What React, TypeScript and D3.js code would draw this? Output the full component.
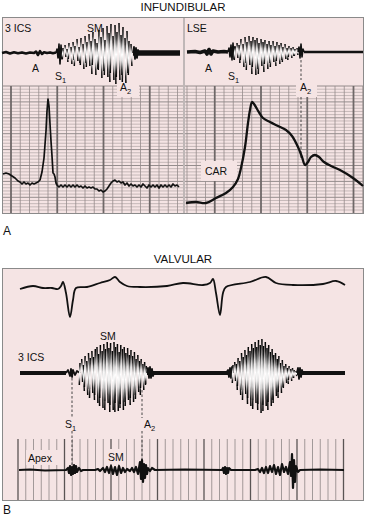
import React from 'react';
import * as d3 from 'd3';

type P = [number, number];
type S = [number, number]; // spike: [upward amplitude, downward amplitude]

// ---------- Panel A (infundibular) ----------
// 3 ICS phonocardiogram: time units, amplitude units (+ up)
const icsPre: P[] = [[2,0],[6,1],[10,-0.5],[14,0.8],[18,-0.3],[22,0.6],[26,-0.4],[30,0.5],[34,0],[36,1.5],[38,-2],[40,1.8],[42,-1],[44,0.8],[47,0],[50,0.6],[53,-0.3],[56,0.4]];
const icsS1: P[] = [[56,0],[57,4],[58,-5],[59,9],[60,-11],[61,8],[62,-6],[63,3]];
const icsMurmurStart = 63;
const icsMurmurStep = 2;
const icsMurmur: S[] = [[5,6],[8,4],[4,9],[10,6],[6,11],[11,7],[7,13],[14,8],[6,10],[15,12],
  [9,16],[17,10],[11,14],[19,13],[12,21],[21,12],[14,22],[10,16],[23,17],[16,25],
  [25,18],[13,22],[27,24],[20,29],[29,20],[17,27],[28,31],[21,24],[30,27],[18,22],
  [26,29],[15,30],[22,20],[12,22],[9,13]];
const icsPostStart: P[] = [[133,0],[134,6],[135,-6],[136,5],[137,-5],[138,3],[139,0]];
const icsPost: P[] = [[133,0],[180,0]];

// LSE phonocardiogram
const lsePre: P[] = [[187,0],[195,0.5],[200,-0.5],[205,1],[207,-2],[209,2.5],[211,-2],[213,1],[218,0],[224,0.5],[228,0]];
const lseS1: P[] = [[228,0],[229,4],[230,-5],[231,7],[232,-8],[233,9],[234,-7],[235,5]];
const lseMurmurStart = 235;
const lseMurmurStep = 2;
const lseMurmur: S[] = [[6,8],[9,6],[7,11],[13,8],[8,15],[15,11],[10,18],[16,13],[11,22],[15,15],
  [12,23],[14,17],[9,22],[13,14],[10,20],[12,12],[8,17],[11,11],[7,15],[11,10],
  [6,14],[10,9],[7,12],[9,8],[5,10],[8,7],[4,8],[6,5],[4,6],[5,4],[3,4],[4,3]];
const lseA2: P[] = [[298,0],[299,5],[300,-6],[301,8],[302,-5],[303,3],[304,0]];
const lsePost: P[] = [[304,0],[363,0]];

// pressure trace (left lower)
const pressure: P[] = [[3,12],[6,13],[9,12],[12,10],[15,8],[18,5],[20,4],[22,2],[24,4],[26,2],[28,3],[30,1],[32,3],[34,2],[36,3],[38,4],[40,6],[42,14],[44,28],[46,55],[47,75],[48,87],[49,80],[50,62],[51,45],[52,30],[53,13],[54,12],[55,9],[56,3],[57,1],[59,-1],[61,1],[63,-1],[65,1],[67,-1],[69,1],[71,-1],[73,1],[75,-1],[77,1],[79,-1],[81,0],[83,-2],[85,0],[87,-2],[89,-1],[91,-2],[93,-1],[95,-3],[97,-3],[99,-5],[101,-4],[103,-6],[105,-5],[107,-3],[109,0],[111,3],[113,5],[115,6],[117,4],[119,5],[121,3],[123,4],[125,1],[127,3],[129,0],[131,2],[133,0],[135,1],[137,-1],[139,1],[141,-1],[143,2],[145,0],[147,-2],[149,1],[151,-1],[153,1],[155,-1],[157,1],[159,-2],[161,1],[163,-1],[165,1],[167,-1],[169,1],[171,-1],[173,2],[175,0],[177,1],[179,-1]];

// carotid pulse (CAR)
const carotid: P[] = [[186,0],[196,1],[206,0],[216,5],[226,10],[233,16],[238,24],[241,35],[245,56],[248,80],[250,93],[252,101],[254,99],[257,94],[263,85],[270,81],[278,77],[286,73],[292,67],[298,56],[302,46],[305,38],[308,41],[311,46],[315,48],[319,46],[324,41],[331,37],[340,33],[353,25],[363,17]];

// ---------- Panel B (valvular) ----------
const ecg: P[] = [[20,-2],[33,1],[43,-1],[52,-1],[58,-2],[61,1],[63,5],[66,-6],[70,-30],[73,-13],[76,-1],[87,0],[100,4],[110,7],[115,10],[120,5],[127,1],[140,0],[167,1],[183,4],[203,2],[210,4],[213,8],[216,-6],[220,-28],[223,-6],[226,0],[250,5],[266,10],[276,4],[293,2],[323,3],[336,6],[345,2]];

const bPre: P[] = [[20,0],[66,0]];
const bS1: P[] = [[66,0],[68,3],[70,-3],[71,4],[72,-4],[73,3],[75,-2],[77,2],[80,0]];
const bMurmur1Start = 80;
const bMurmurStep = 1.7;
const bMurmur1: S[] = [[10,12],[14,9],[8,18],[17,14],[12,22],[20,16],[15,25],[22,20],[16,27],[24,22],
  [26,30],[19,33],[28,25],[22,35],[29,28],[24,37],[31,30],[25,39],[30,32],[22,37],
  [31,39],[26,30],[29,38],[21,35],[28,31],[24,37],[26,29],[20,33],[25,27],[18,32],
  [23,25],[17,29],[21,22],[14,26],[18,19],[12,22],[14,15],[9,17],[11,12],[7,11]];
const bMid: P[] = [[147,0],[233,0]];
const bMidStart: P[] = [[147,0],[148,5],[149,-5],[150,6],[151,-5],[152,4],[153,-3],[154,0]];
const bMidEnd: P[] = [[226,0],[228,3],[229,-4],[230,5],[231,-5],[232,6],[233,0]];
const bMurmur2Start = 233;
const bMurmur2: S[] = [[8,10],[11,8],[9,17],[15,13],[12,22],[20,17],[16,27],[23,21],[18,31],[26,25],
  [22,33],[29,27],[25,36],[31,30],[26,37],[33,31],[28,40],[34,32],[27,38],[31,33],
  [25,37],[28,29],[21,33],[24,27],[18,30],[20,23],[14,25],[17,19],[10,20],[13,14],
  [7,15],[9,10],[5,11],[7,7],[4,8],[5,5],[3,5],[2,3]];
const bPostStart: P[] = [[297,0],[298,5],[299,-6],[300,5],[301,-4],[302,3],[303,0]];
const bPost: P[] = [[297,0],[345,0]];

const apex: P[] = [[19,0],[30,0.5],[45,-0.5],[66,0],[68,2],[69,-3],[70,4],[71,-5],[72,3],[73,-4],[74,5],[75,-3],[76,4],[77,-2],[79,2],[81,-1],[83,0],[95,0],[98,1],[100,-1],[103,2],[105,-2],[107,3],[109,-3],[111,4],[113,-4],[115,3],[117,-5],[119,4],[121,-3],[123,2],[125,-2],[127,1],[130,-1],[132,2],[134,-2],[136,3],[138,-4],[140,8],[141,-9],[142,10],[143,-12],[144,6],[145,-8],[146,5],[147,-4],[148,2],[150,-1],[152,2],[155,0],[185,0.5],[222,0],[223,2],[224,-3],[225,3],[226,-4],[227,2],[228,-3],[229,2],[231,0],[255,0],[258,1],[260,-2],[262,2],[264,-3],[266,3],[268,-3],[270,4],[272,-2],[274,5],[276,-4],[278,3],[280,-5],[282,6],[284,-2],[286,3],[288,-4],[290,8],[291,-6],[292,16],[293,-18],[294,10],[295,-12],[296,4],[298,-2],[300,0],[320,0.5],[344,0]];

// event markers (time units)
const lseA2Time = 301;
const bS1Time = 72;
const bA2Time = 142;

// ---------- helpers ----------
const PINK = '#f5e4e4';
const FONT = "'Liberation Sans', Arial, Helvetica, sans-serif";

const x = d3.scaleLinear().domain([0, 366]).range([0, 366]);
const yAt = (base: number) => d3.scaleLinear().domain([-100, 100]).range([base + 100, base - 100]);

function path(points: P[], y: d3.ScaleLinear<number, number>, curve: d3.CurveFactory = d3.curveLinear) {
  return d3.line<P>().x(d => x(d[0])).y(d => y(d[1])).curve(curve)(points) || '';
}

function Trace({ pts, y, w = 2, curve, stroke = '#111' }: { pts: P[]; y: any; w?: number; curve?: d3.CurveFactory; stroke?: string }) {
  return <path d={path(pts, y, curve)} fill="none" stroke={stroke} strokeWidth={w} strokeLinejoin="round" />;
}

function Murmur({ start, step, spikes, y, w, glow }: { start: number; step: number; spikes: S[]; y: any; w: number; glow?: number }) {
  const t = (i: number) => start + i * step;
  const tEnd = t(spikes.length - 1);
  const maxUp = d3.max(spikes, s => s[0]) || 0;
  const maxDn = d3.max(spikes, s => s[1]) || 0;
  const peakI = d3.maxIndex(spikes, s => s[0] + s[1]);
  return (
    <g>
      {glow ? (
        <ellipse cx={x((t(peakI) + (start + tEnd) / 2) / 2)} cy={y(0)} rx={(x(tEnd) - x(start)) * 0.38}
          ry={(y(-maxDn) - y(maxUp)) * 0.36} fill="url(#glow)" opacity={glow} />
      ) : null}
      {spikes.map((s, i) => (
        <line key={i} x1={x(t(i))} x2={x(t(i)) + (i % 3 === 0 ? -0.7 : 0.9)} y1={y(s[0])} y2={y(-s[1])}
          stroke="url(#spk)" strokeWidth={w} strokeLinecap="butt" />
      ))}
    </g>
  );
}

function Grid({ x0, x1, y0, y1, vStart, vStep, majorMod, majorOff }: any) {
  const hs = d3.range(y0, y1, 3.18);
  return (
    <g>
      {hs.map((h, i) => (
        <line key={'h' + i} x1={x0} x2={x1} y1={h} y2={h} stroke={i % 5 === 0 ? '#8a8282' : '#a59b9b'} strokeWidth={i % 5 === 0 ? 0.9 : 0.6} />
      ))}
      {d3.range(vStart, x1, vStep).map((v, i) => (v >= x0 ?
        <line key={'v' + i} x1={v} x2={v} y1={y0} y2={y1} stroke={i % majorMod === majorOff ? '#6f6868' : '#958c8c'} strokeWidth={i % majorMod === majorOff ? 1.8 : 0.8} /> : null
      ))}
    </g>
  );
}

function Sub({ xx, yy, main, sub, size = 10.5 }: any) {
  return (
    <text x={xx} y={yy} fontSize={size} fill="#111">
      {main}
      <tspan fontSize={size * 0.72} dy={3}>{sub}</tspan>
    </text>
  );
}

export default function App() {
  const yIcs = yAt(53);
  const yLse = yAt(52);
  const yPress = yAt(186);
  const yCar = yAt(203);
  const yEcg = yAt(287);
  const yPhono = yAt(373);
  const yApex = yAt(470);

  const bGridXs = d3.range(18, 346, 7.75);

  return (
    <svg width={366} height={526} style={{ position: 'absolute', left: 0, top: 0, background: '#fff' }} fontFamily={FONT}>
      <defs>
        <linearGradient id="spk" x1="0" y1="0" x2="0" y2="1">
          <stop offset="0" stopColor="#000" />
          <stop offset="0.14" stopColor="#222" />
          <stop offset="0.36" stopColor="#d8d8d8" />
          <stop offset="0.5" stopColor="#fff" />
          <stop offset="0.64" stopColor="#d8d8d8" />
          <stop offset="0.86" stopColor="#222" />
          <stop offset="1" stopColor="#000" />
        </linearGradient>
        <radialGradient id="glow" cx="0.5" cy="0.5" r="0.5">
          <stop offset="0" stopColor="#fff" stopOpacity="1" />
          <stop offset="0.6" stopColor="#fff" stopOpacity="0.6" />
          <stop offset="1" stopColor="#fff" stopOpacity="0" />
        </radialGradient>
      </defs>

      {/* Panel A */}
      <text x={183} y={11} fontSize={11.5} textAnchor="middle" fill="#111">INFUNDIBULAR</text>
      <rect x={2.5} y={17.5} width={361} height={196} fill={PINK} stroke="#8a8a8a" strokeWidth={1} />
      <line x1={184} x2={184} y1={17.5} y2={213.5} stroke="#8a8a8a" strokeWidth={1} />
      <Grid x0={3} x1={183} y0={86} y1={213} vStart={1.75} vStep={9.25} majorMod={5} majorOff={1} />
      <Grid x0={185} x1={363} y0={86} y1={213} vStart={187} vStep={9.25} majorMod={5} majorOff={3} />

      {/* label boxes on grid */}
      <rect x={117} y={80} width={22} height={17} fill={PINK} />
      <rect x={296} y={80} width={21} height={17} fill={PINK} />
      <rect x={201} y={161} width={36} height={20} fill={PINK} />

      {/* A2 dashed line right */}
      <line x1={x(lseA2Time)} x2={x(lseA2Time)} y1={60} y2={80} stroke="#333" strokeWidth={0.9} strokeDasharray="2.5,2" />
      <line x1={x(lseA2Time)} x2={x(lseA2Time)} y1={97} y2={160} stroke="#333" strokeWidth={0.9} strokeDasharray="2.5,2" />

      {/* 3 ICS traces */}
      <Trace pts={icsPre} y={yIcs} w={2.6} />
      <Trace pts={icsS1} y={yIcs} w={1.6} />
      <Murmur start={icsMurmurStart} step={icsMurmurStep} spikes={icsMurmur} y={yIcs} w={1.5} glow={0.5} />
      <Trace pts={icsPost} y={yIcs} w={5.5} />
      <Trace pts={icsPostStart} y={yIcs} w={1.8} />

      {/* LSE traces */}
      <Trace pts={lsePre} y={yLse} w={3.6} />
      <Trace pts={lseS1} y={yLse} w={1.6} />
      <Murmur start={lseMurmurStart} step={lseMurmurStep} spikes={lseMurmur} y={yLse} w={1.5} glow={0.5} />
      <Trace pts={lseA2} y={yLse} w={1.6} />
      <Trace pts={lsePost} y={yLse} w={2.6} />

      <Trace pts={pressure} y={yPress} w={1.7} />
      <Trace pts={carotid} y={yCar} w={2.3} curve={d3.curveCatmullRom.alpha(0.5)} />

      {/* Panel A labels */}
      <text x={5} y={32} fontSize={10.5} fill="#111">3 ICS</text>
      <text x={87} y={32} fontSize={10.5} fill="#111">SM</text>
      <text x={32} y={72} fontSize={10.5} fill="#111">A</text>
      <Sub xx={55} yy={80} main="S" sub="1" />
      <Sub xx={120} yy={91} main="A" sub="2" />
      <text x={187} y={32} fontSize={10.5} fill="#111">LSE</text>
      <text x={205} y={72} fontSize={10.5} fill="#111">A</text>
      <Sub xx={228} yy={80} main="S" sub="1" />
      <Sub xx={300} yy={91} main="A" sub="2" />
      <text x={205} y={175} fontSize={10.5} fill="#111">CAR</text>

      <text x={3} y={235} fontSize={12} fill="#111">A</text>

      {/* Panel B */}
      <text x={183} y={263} fontSize={11.5} textAnchor="middle" fill="#111">VALVULAR</text>
      <rect x={2.5} y={268.5} width={361} height={232} fill={PINK} stroke="#8a8a8a" strokeWidth={1} />

      {bGridXs.map((v, i) => (
        <line key={'b' + i} x1={v} x2={v} y1={439} y2={500} stroke={i % 6 === 0 ? '#5a5454' : '#8d8585'} strokeWidth={i % 6 === 0 ? 1.3 : 0.8} />
      ))}
      <rect x={26} y={450} width={32} height={15} fill={PINK} />
      <rect x={106} y={449} width={20} height={15} fill={PINK} />

      <Trace pts={ecg} y={yEcg} w={1.8} curve={d3.curveCatmullRom.alpha(0.5)} />

      {/* dashed markers */}
      <line x1={x(bS1Time)} x2={x(bS1Time)} y1={378} y2={418} stroke="#333" strokeWidth={0.9} strokeDasharray="2.5,2" />
      <line x1={x(bS1Time)} x2={x(bS1Time)} y1={431} y2={466} stroke="#333" strokeWidth={0.9} strokeDasharray="2.5,2" />
      <line x1={x(bA2Time)} x2={x(bA2Time)} y1={390} y2={418} stroke="#333" strokeWidth={0.9} strokeDasharray="2.5,2" />
      <line x1={x(bA2Time)} x2={x(bA2Time)} y1={431} y2={463} stroke="#333" strokeWidth={0.9} strokeDasharray="2.5,2" />

      <Trace pts={bPre} y={yPhono} w={4} />
      <Trace pts={bS1} y={yPhono} w={1.8} />
      <Murmur start={bMurmur1Start} step={bMurmurStep} spikes={bMurmur1} y={yPhono} w={1.5} glow={0.85} />
      <Trace pts={bMid} y={yPhono} w={3.8} />
      <Trace pts={bMidStart} y={yPhono} w={1.8} />
      <Trace pts={bMidEnd} y={yPhono} w={1.8} />
      <Murmur start={bMurmur2Start} step={bMurmurStep} spikes={bMurmur2} y={yPhono} w={1.5} glow={0.85} />
      <Trace pts={bPost} y={yPhono} w={4} />
      <Trace pts={bPostStart} y={yPhono} w={1.8} />

      <Trace pts={apex} y={yApex} w={2.2} />

      <text x={100} y={340} fontSize={10.5} fill="#111">SM</text>
      <text x={18} y={361} fontSize={10.5} fill="#111">3 ICS</text>
      <Sub xx={65} yy={428} main="S" sub="1" />
      <Sub xx={144} yy={428} main="A" sub="2" />
      <text x={28} y={462} fontSize={10.5} fill="#111">Apex</text>
      <text x={108} y={461} fontSize={10.5} fill="#111">SM</text>

      <text x={3} y={514} fontSize={12} fill="#111">B</text>
    </svg>
  );
}
